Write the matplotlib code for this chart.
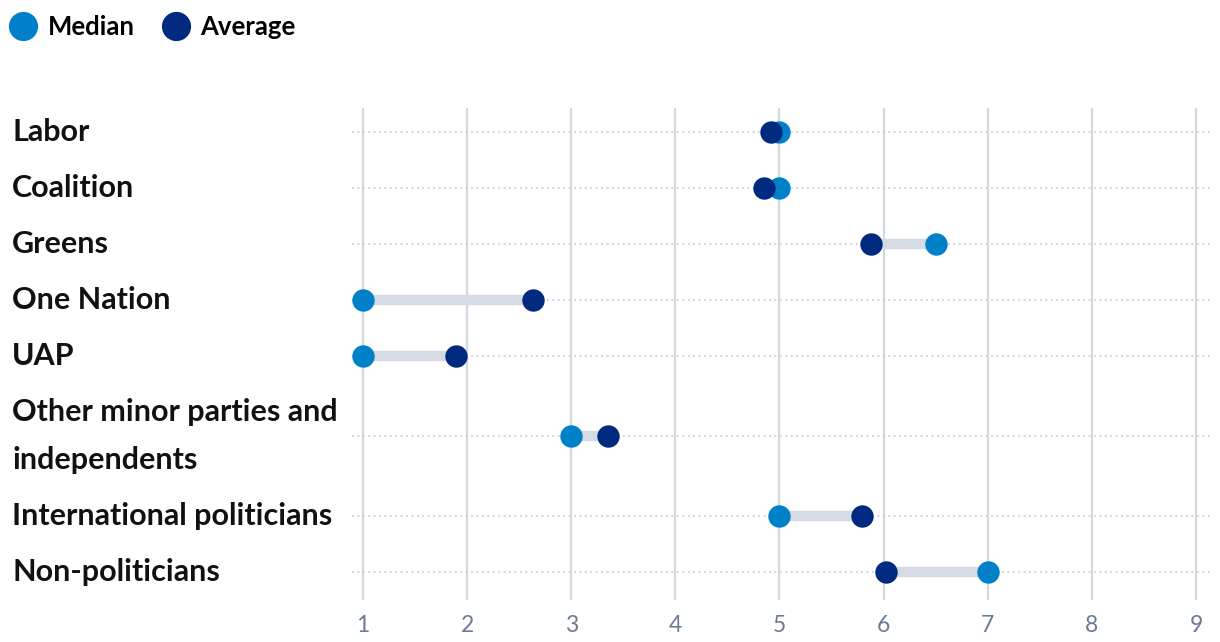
import matplotlib.pyplot as plt
from matplotlib.lines import Line2D
from matplotlib.transforms import blended_transform_factory

categories = ["Labor", "Coalition", "Greens", "One Nation", "UAP",
              "Other minor parties and\nindependents",
              "International politicians", "Non-politicians"]
median = [5, 5, 6.5, 1, 1, 3, 5, 7]
average = [4.92, 4.85, 5.88, 2.63, 1.89, 3.35, 5.79, 6.02]
ticks = [1, 2, 3, 4, 5, 6, 7, 8, 9]

MED_C = "#0080C9"
AVG_C = "#002A80"
LINK_C = "#D5DBE3"
GRID_C = "#D3D9E1"
TICK_C = "#6C7B93"

plt.rcParams['font.family'] = ['Lato', 'DejaVu Sans']

# row centres: single-line rows step 1, the two-line row takes extra room
ys = []
y = 0.0
prev_extra = 0.0
for i, c in enumerate(categories):
    extra = (c.count("\n")) * 24 / 56
    if i > 0:
        y += 1 + prev_extra + extra
    ys.append(y)
    prev_extra = extra

fig = plt.figure(figsize=(12.2, 6.42), dpi=100)
W, H = 1220, 642
ax = fig.add_axes([352 / W, 1 - 600 / H, (1210 - 352) / W, (600 - 108) / H])

x0 = 1 - 11 / 104.1
x1 = 9 + 14 / 104.1
ax.set_xlim(x0, x1)
ax.set_ylim(ys[-1] + 28 / 56, -24 / 56)

for t in ticks:
    ax.axvline(t, color=GRID_C, lw=1.6, zorder=1)
for yy in ys:
    ax.axhline(yy, color="#C9D0DA", lw=1.3, ls=(0, (1, 2)), zorder=1)

for yy, m, a in zip(ys, median, average):
    ax.plot([m, a], [yy, yy], color=LINK_C, lw=7.5, solid_capstyle="butt", zorder=2)
ax.scatter(median, ys, s=260, color=MED_C, zorder=3, linewidths=0)
ax.scatter(average, ys, s=260, color=AVG_C, zorder=4, linewidths=0)

ax.set_xticks(ticks)
ax.set_xticklabels([str(t) for t in ticks], fontsize=16.5, color=TICK_C)
ax.tick_params(axis="x", length=0, pad=11)
ax.set_yticks([])
for s in ax.spines.values():
    s.set_visible(False)

tr = blended_transform_factory(fig.transFigure, ax.transData)
for yy, c in zip(ys, categories):
    ax.text(12 / W, yy, c, transform=tr, ha="left", va="center", fontsize=22,
            fontweight="bold", color="#111111", linespacing=1.83)

handles = [Line2D([], [], marker="o", ls="", color=MED_C, markersize=20, label="Median"),
           Line2D([], [], marker="o", ls="", color=AVG_C, markersize=20, label="Average")]
fig.legend(handles=handles, loc="upper left", bbox_to_anchor=(-0.0125, 1.013), ncol=2,
           frameon=False, prop={"size": 18.5, "weight": "bold"}, handletextpad=0.35,
           columnspacing=1.0, handlelength=1.2)

fig.savefig("out.png", dpi=100)
